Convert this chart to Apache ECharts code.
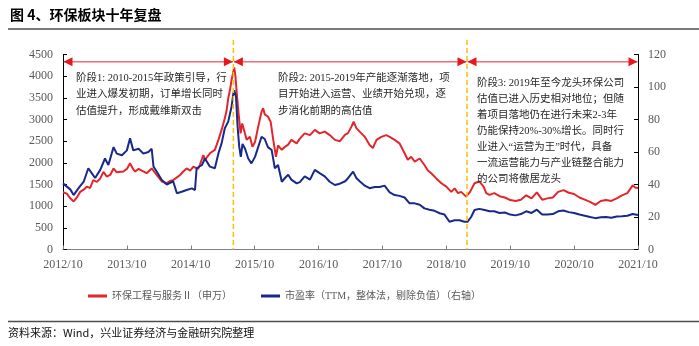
<!DOCTYPE html>
<html><head><meta charset="utf-8">
<script src="https://cdn.jsdelivr.net/npm/echarts/dist/echarts.min.js"></script>
<style>html,body{margin:0;padding:0;background:#fff;}#c{width:699px;height:346px;}</style>
</head><body><div id="c"></div>
<script>
// ---- data ----
const xTickLabels = ['2012/10','2013/10','2014/10','2015/10','2016/10','2017/10','2018/10','2019/10','2020/10','2021/10'];
const seriesNames = ['环保工程与服务Ⅱ（申万）','市盈率（TTM，整体法，剔除负值）（右轴）'];
const indexSeries = [
['2012-10-01',1320],['2012-10-23',1290],['2012-11-12',1180],['2012-12-01',1110],['2012-12-19',1200],
['2013-01-08',1330],['2013-01-28',1380],['2013-02-15',1450],['2013-03-04',1420],['2013-03-22',1600],
['2013-04-12',1560],['2013-05-01',1640],['2013-05-19',1790],['2013-06-08',1680],['2013-06-27',1720],
['2013-07-16',1870],['2013-08-04',1780],['2013-08-13',1760],['2013-09-12',1800],['2013-10-01',1860],
['2013-10-19',1990],['2013-11-07',1850],['2013-11-18',1800],['2013-12-07',1860],['2013-12-25',1820],
['2014-01-23',1760],['2014-02-21',1870],['2014-03-04',1800],['2014-03-19',1720],['2014-04-18',1570],
['2014-05-16',1530],['2014-06-04',1580],['2014-06-22',1600],['2014-08-01',1720],['2014-08-19',1800],
['2014-09-08',1870],['2014-09-28',1820],['2014-10-16',1910],['2014-11-13',1860],['2014-11-22',1950],
['2014-12-12',2180],['2014-12-21',2070],['2015-01-19',2220],['2015-02-17',2300],['2015-03-07',2530],
['2015-03-25',2760],['2015-04-13',3030],['2015-04-23',3200],['2015-05-02',3490],['2015-05-12',3680],
['2015-05-21',3910],['2015-06-01',4100],['2015-06-06',4200],['2015-06-13',3990],['2015-06-22',3530],
['2015-07-02',3070],['2015-07-12',2680],['2015-07-21',2910],['2015-08-01',2760],['2015-08-16',2530],
['2015-09-04',2600],['2015-09-19',2370],['2015-10-03',2480],['2015-10-21',2830],['2015-11-10',3180],
['2015-11-19',3260],['2015-11-28',3120],['2015-12-16',3070],['2016-01-01',2950],['2016-01-16',2530],
['2016-02-01',2140],['2016-02-13',2400],['2016-03-04',2300],['2016-03-22',2370],['2016-04-10',2420],
['2016-04-28',2530],['2016-05-28',2450],['2016-06-16',2560],['2016-07-13',2680],['2016-08-13',2640],
['2016-09-10',2760],['2016-10-07',2680],['2016-11-06',2720],['2016-12-04',2640],['2017-01-03',2530],
['2017-02-01',2500],['2017-03-01',2650],['2017-03-16',2680],['2017-04-06',2830],['2017-04-19',2950],
['2017-05-04',2800],['2017-05-23',2720],['2017-06-22',2600],['2017-07-19',2410],['2017-08-07',2340],
['2017-08-28',2530],['2017-09-25',2600],['2017-10-23',2640],['2017-11-12',2600],['2017-12-10',2530],
['2018-01-07',2450],['2018-02-06',2220],['2018-02-24',2070],['2018-03-13',2140],['2018-04-03',2030],
['2018-05-01',2100],['2018-05-28',1950],['2018-06-16',1830],['2018-07-06',1760],['2018-08-04',1640],
['2018-09-03',1530],['2018-10-01',1450],['2018-10-29',1330],['2018-11-18',1410],['2018-12-07',1300],
['2018-12-25',1330],['2019-01-23',1220],['2019-02-15',1330],['2019-03-10',1530],['2019-04-07',1570],
['2019-05-01',1450],['2019-05-16',1300],['2019-06-04',1260],['2019-07-01',1300],['2019-08-01',1230],
['2019-09-01',1200],['2019-10-01',1140],['2019-11-01',1120],['2019-12-01',1150],['2020-01-01',1250],
['2020-02-01',1180],['2020-03-01',1320],['2020-04-01',1150],['2020-05-01',1180],['2020-06-01',1200],
['2020-07-01',1330],['2020-08-01',1370],['2020-09-01',1310],['2020-10-01',1280],['2020-11-01',1200],
['2020-12-01',1150],['2021-01-01',1100],['2021-02-01',1030],['2021-03-01',1120],['2021-04-01',1140],
['2021-05-01',1120],['2021-06-01',1180],['2021-07-01',1250],['2021-08-01',1300],['2021-09-01',1480],
['2021-09-15',1430],['2021-10-01',1420]
];
const peSeries = [
['2012-10-01',40.7],['2012-10-23',38.7],['2012-11-12',37],['2012-12-01',33.5],['2012-12-28',37.6],
['2013-01-28',41.7],['2013-02-24',50],['2013-03-13',47],['2013-04-02',44],['2013-05-01',49],
['2013-05-28',56],['2013-06-17',52],['2013-07-16',63],['2013-08-04',59],['2013-09-03',58],
['2013-10-01',61],['2013-10-19',68.4],['2013-11-07',61],['2013-12-07',62],['2014-01-04',59],
['2014-02-02',60],['2014-02-21',62],['2014-03-01',51],['2014-03-19',48],['2014-04-18',42.8],
['2014-05-16',40],['2014-06-22',42],['2014-07-13',34.6],['2014-08-10',35.5],['2014-09-08',36.6],
['2014-10-07',37.6],['2014-10-25',36.6],['2014-11-04',50],['2014-12-04',52],['2014-12-21',56],
['2015-01-19',51],['2015-02-17',50],['2015-03-07',59.2],['2015-03-25',65.3],['2015-04-13',74.6],
['2015-05-02',78.7],['2015-05-21',87.9],['2015-06-01',96.1],['2015-06-06',98],['2015-06-16',94],
['2015-06-25',76],['2015-07-04',63.3],['2015-07-13',57],['2015-07-23',65],['2015-08-07',62],
['2015-08-25',56],['2015-09-13',53],['2015-10-03',57],['2015-10-21',63],['2015-11-10',69.4],
['2015-11-28',68],['2015-12-16',63],['2016-01-07',61.2],['2016-01-25',50],['2016-02-13',52],
['2016-03-04',41.7],['2016-03-22',44],['2016-04-10',46],['2016-04-28',43],['2016-05-28',40.7],
['2016-06-16',41.5],['2016-07-13',45],['2016-08-13',43],['2016-09-10',49],['2016-10-07',47],
['2016-11-06',45],['2016-12-04',41.7],['2017-01-03',39.7],['2017-02-01',40.5],['2017-03-01',42],
['2017-03-16',43.7],['2017-04-16',47.9],['2017-05-04',44],['2017-05-23',42],['2017-06-22',39.3],
['2017-07-19',37.7],['2017-08-18',38.5],['2017-09-16',38.5],['2017-10-13',39.3],['2017-11-12',35.2],
['2017-12-10',33.5],['2018-01-07',33],['2018-02-06',32],['2018-03-04',28.4],['2018-04-03',28.4],
['2018-05-01',27.5],['2018-05-28',25.3],['2018-06-27',24.5],['2018-07-25',23.8],['2018-08-24',22.3],
['2018-09-21',21.5],['2018-10-19',17.1],['2018-11-18',18],['2018-12-16',18],['2019-01-13',17.1],
['2019-02-01',17.1],['2019-02-21',20],['2019-03-10',24.3],['2019-04-07',25],['2019-05-07',24.3],
['2019-06-04',23.5],['2019-07-01',23.5],['2019-08-01',22.5],['2019-09-01',22.8],['2019-10-01',21.5],
['2019-11-01',21],['2019-12-01',21.8],['2020-01-01',23.5],['2020-02-01',22.5],['2020-03-01',24.5],
['2020-04-01',21.5],['2020-05-01',21.5],['2020-06-01',21.8],['2020-07-01',23.5],['2020-08-01',24],
['2020-09-01',23],['2020-10-01',22.5],['2020-11-01',21.5],['2020-12-01',20.8],['2021-01-01',20],
['2021-02-01',19.3],['2021-03-01',19.8],['2021-04-01',20],['2021-05-01',19.5],['2021-06-01',20.3],
['2021-07-01',20.5],['2021-08-01',20.8],['2021-09-01',21.8],['2021-10-01',21.2]
];
const phaseBounds = ['2012-10-01','2015-06-01','2019-01-28','2021-10-01'];
const arrowLevel = 4330;
const phase1Lines = ['阶段1: 2010-2015年政策引导，行','业进入爆发初期，订单增长同时','估值提升，形成戴维斯双击'];
const phase2Lines = ['阶段2: 2015-2019年产能逐渐落地，项','目开始进入运营、业绩开始兑现，逐','步消化前期的高估值'];
const phase3Lines = ['阶段3: 2019年至今龙头环保公司','估值已进入历史相对地位；但随','着项目落地仍在进行未来2-3年','仍能保持20%-30%增长。同时行','业进入“运营为王”时代，具备','一流运营能力与产业链整合能力','的公司将傲居龙头'];
const titleText = '图 4、环保板块十年复盘';
const sourceText = '资料来源：Wind，兴业证券经济与金融研究院整理';

// ---- helpers ----
function toM(s){const p=s.split('-').map(Number);return (p[0]-2012)*12+(p[1]-10)+(p[2]-1)/30.5;}
const SERIF = "'Liberation Serif','Noto Sans CJK SC'";
const RED = '#E3262C', BLUE = '#18298A', LABEL = '#595959';

const chart = echarts.init(document.getElementById('c'), null, {renderer:'canvas'});

function axisY(pos, max, interval){
  return {type:'value', position:pos, min:0, max:max, interval:interval,
    axisLine:{show:true, lineStyle:{color:'#000', width:1}},
    axisTick:{show:true, inside:true, length:4, lineStyle:{color:'#000'}},
    axisLabel:{color:LABEL, fontSize:12, fontFamily:SERIF, margin:10, formatter:function(v){return String(v);}},
    splitLine:{show:false}};
}

chart.setOption({
  animation:false,
  grid:{left:63, right:61, top:54.5, bottom:96.5, containLabel:false},
  legend:{left:83, top:286, itemWidth:19, itemHeight:3, itemGap:29, icon:'rect',
    textStyle:{fontSize:10, color:LABEL, fontFamily:SERIF},
    data:seriesNames},
  xAxis:{type:'value', min:0, max:108, interval:12,
    axisLine:{show:true, onZero:false, lineStyle:{color:'#808080', width:1}},
    axisTick:{show:true, inside:true, length:4, lineStyle:{color:'#808080'}},
    axisLabel:{color:LABEL, fontSize:12, fontFamily:SERIF, margin:9,
      formatter:function(v){return xTickLabels[Math.round(v/12)]||'';}},
    splitLine:{show:false}},
  yAxis:[axisY('left',4500,500), axisY('right',120,20)],
  series:[
    {name:seriesNames[0], type:'line', yAxisIndex:0, showSymbol:false, symbol:'none',
     lineStyle:{color:RED, width:2}, itemStyle:{color:RED},
     data:indexSeries.map(d=>[toM(d[0]),d[1]])},
    {name:seriesNames[1], type:'line', yAxisIndex:1, showSymbol:false, symbol:'none',
     lineStyle:{color:BLUE, width:2}, itemStyle:{color:BLUE},
     data:peSeries.map(d=>[toM(d[0]),d[1]])}
  ]
});

// ---- static texts and rules + phase marks placed through the axes ----
const g = [];
const TXT = '#262626';
g.push({type:'text', style:{x:10, y:15, text:titleText, fill:'#000', fontSize:14, fontWeight:'bold', fontFamily:"'Noto Sans CJK SC'", verticalAlign:'middle'}});
g.push({type:'line', shape:{x1:8,y1:29,x2:699,y2:29}, style:{stroke:'#4d4d4d', lineWidth:1.5}});
g.push({type:'line', shape:{x1:8,y1:321.5,x2:699,y2:321.5}, style:{stroke:'#4d4d4d', lineWidth:1.5}});
g.push({type:'text', style:{x:8, y:333, text:sourceText, fill:'#111', fontSize:11, fontFamily:"'Noto Sans CJK SC'", verticalAlign:'middle'}});
function addBlock(lines, x, y0, lh){
  lines.forEach((t,i)=>g.push({type:'text', z:50, style:{x:x, y:y0+i*lh, text:t, fill:TXT, fontSize:10.5, fontFamily:SERIF, verticalAlign:'middle'}}));
}
addBlock(phase1Lines, 76, 78, 16.5);
addBlock(phase2Lines, 278, 78, 16.5);
addBlock(phase3Lines, 477, 83, 16);
const yBottom = chart.convertToPixel({yAxisIndex:0}, 0);
const yArrow = chart.convertToPixel({yAxisIndex:0}, arrowLevel);
const bx = phaseBounds.map(d=>chart.convertToPixel({xAxisIndex:0}, toM(d)));
for (let i=0;i<3;i++){
  const a = bx[i]+0.5, b = bx[i+1]-0.5;
  g.push({type:'line', z:55, shape:{x1:a,y1:yArrow,x2:b,y2:yArrow}, style:{stroke:RED, lineWidth:1}});
  g.push({type:'polygon', z:55, shape:{points:[[a,yArrow],[a+9,yArrow-4.5],[a+9,yArrow+4.5]]}, style:{fill:'#E8161C'}});
  g.push({type:'polygon', z:55, shape:{points:[[b,yArrow],[b-9,yArrow-4.5],[b-9,yArrow+4.5]]}, style:{fill:'#E8161C'}});
}
[bx[1], bx[2]].forEach(px=>{
  g.push({type:'line', z:60, shape:{x1:px,y1:40,x2:px,y2:yBottom}, style:{stroke:'#FFC000', lineWidth:1.5, lineDash:[5,3]}});
});
chart.setOption({graphic:g});
</script>
</body></html>
